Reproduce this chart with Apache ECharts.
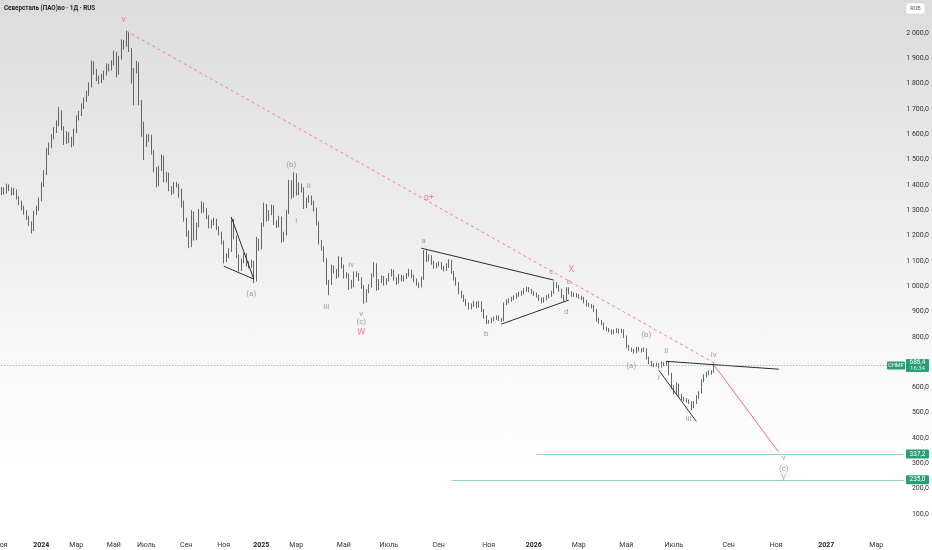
<!DOCTYPE html>
<html>
<head>
<meta charset="utf-8">
<script src="https://cdn.jsdelivr.net/npm/echarts@6/dist/echarts.min.js"></script>
<style>
  html, body { margin: 0; padding: 0; }
  #chart {
    width: 932px;
    height: 550px;
    background: linear-gradient(to bottom, #dcdcdc 0%, #ebebeb 35%, #f8f8f8 65%, #ffffff 85%);
  }
</style>
</head>
<body>
<div id="chart"></div>
<script>
// дневные свечи CHMF, цены закрытия / минимумы / максимумы
const closes = [
  1380, 1372, 1395, 1385, 1368, 1378, 1350, 1330, 1312, 1295,
  1270, 1250, 1222, 1290, 1305, 1340, 1400, 1445, 1530, 1555,
  1590, 1615, 1640, 1690, 1625, 1570, 1600, 1580, 1560, 1610,
  1665, 1680, 1710, 1735, 1760, 1790, 1880, 1850, 1826, 1810,
  1825, 1840, 1870, 1860, 1880, 1920, 1840, 1900, 1965, 1950,
  2000, 1935, 1815, 1850, 1880, 1730, 1640, 1560, 1585, 1590,
  1530, 1460, 1400, 1465, 1510, 1420, 1440, 1385, 1370, 1405,
  1400, 1380, 1330, 1265, 1210, 1160, 1290, 1190, 1240, 1295,
  1325, 1300, 1275, 1235, 1250, 1260, 1230, 1210, 1175, 1100,
  1120, 1140, 1260, 1195, 1120, 1065, 1100, 1125, 1090, 1080,
  1095, 1020, 1180, 1150, 1240, 1320, 1265, 1290, 1315, 1250,
  1240, 1270, 1180, 1205, 1290, 1410, 1355, 1440, 1365, 1400,
  1385, 1315, 1340, 1350, 1330, 1305, 1250, 1175, 1150, 1105,
  1015, 1010, 1075, 1060, 1040, 1110, 1080, 1040, 1045, 1020,
  1000, 1050, 1045, 1030, 1000, 940, 980, 1000, 1040, 1085,
  990, 1020, 1035, 1010, 1025, 1045, 1060, 1030, 1015, 1040,
  1025, 1035, 1045, 1060, 1040, 1025, 1010, 1000, 1030, 1135,
  1105, 1118, 1095, 1078, 1085, 1090, 1075, 1065, 1080, 1100,
  1055, 1030, 1012, 975, 960, 945, 930, 915, 925, 935,
  920, 935, 905, 880, 858, 860, 868, 872, 878, 870,
  866, 930, 940, 945, 950, 958, 965, 970, 975, 985,
  990, 985, 975, 970, 962, 950, 940, 950, 958, 965,
  975, 1012, 1000, 985, 960, 948, 990, 975, 965, 968,
  962, 958, 952, 940, 928, 925, 922, 905, 868, 860,
  852, 835, 830, 825, 815, 822, 828, 820, 826, 800,
  762, 752, 748, 740, 755, 750, 745, 752, 718, 700,
  690, 688, 692, 682, 696, 690, 700, 655, 602, 580,
  612, 570, 558, 552, 548, 542, 522, 540, 562, 578,
  625, 645, 655, 660, 662, 686
];
const lows = [
  1360, 1362, 1366, 1376, 1358, 1360, 1342, 1320, 1300, 1282,
  1262, 1238, 1208, 1218, 1280, 1298, 1335, 1392, 1440, 1518,
  1545, 1580, 1605, 1632, 1615, 1558, 1562, 1565, 1548, 1555,
  1605, 1655, 1672, 1700, 1728, 1752, 1785, 1835, 1810, 1798,
  1802, 1815, 1832, 1848, 1852, 1872, 1825, 1835, 1895, 1935,
  1945, 1925, 1800, 1715, 1840, 1715, 1590, 1498, 1550, 1570,
  1520, 1450, 1390, 1395, 1455, 1410, 1410, 1375, 1360, 1365,
  1390, 1350, 1310, 1255, 1195, 1150, 1155, 1180, 1182, 1232,
  1288, 1290, 1265, 1228, 1228, 1240, 1222, 1200, 1165, 1090,
  1095, 1110, 1135, 1185, 1110, 1058, 1060, 1090, 1078, 1070,
  1072, 1012, 1018, 1140, 1145, 1235, 1255, 1258, 1280, 1242,
  1230, 1232, 1172, 1175, 1200, 1285, 1345, 1350, 1358, 1360,
  1370, 1305, 1308, 1330, 1320, 1295, 1240, 1165, 1140, 1095,
  1005, 965, 1005, 1050, 1030, 1035, 1070, 1030, 1030, 985,
  990, 995, 1035, 1020, 990, 930, 935, 972, 995, 1035,
  982, 985, 1012, 1002, 1005, 1018, 1038, 1022, 1005, 1010,
  1018, 1018, 1028, 1038, 1032, 1015, 1002, 992, 995, 1025,
  1095, 1098, 1085, 1068, 1070, 1078, 1065, 1058, 1060, 1072,
  1048, 1022, 1002, 968, 952, 938, 922, 908, 908, 918,
  912, 915, 898, 872, 850, 852, 854, 862, 866, 862,
  858, 862, 925, 932, 938, 944, 950, 958, 962, 968,
  978, 976, 968, 962, 955, 942, 932, 935, 944, 952,
  958, 970, 992, 978, 952, 940, 945, 968, 958, 958,
  955, 950, 945, 932, 920, 918, 912, 898, 860, 852,
  845, 828, 822, 818, 808, 810, 815, 812, 815, 795,
  755, 745, 740, 733, 735, 742, 738, 740, 710, 692,
  683, 680, 682, 675, 678, 684, 686, 648, 595, 572,
  575, 562, 550, 545, 540, 535, 510, 518, 535, 555,
  575, 620, 640, 648, 650, 658
];
const highs = [
  1392, 1390, 1405, 1402, 1390, 1388, 1382, 1356, 1338, 1318,
  1300, 1278, 1256, 1298, 1318, 1350, 1410, 1458, 1545, 1568,
  1600, 1628, 1655, 1708, 1695, 1632, 1612, 1608, 1590, 1622,
  1675, 1692, 1722, 1745, 1772, 1805, 1892, 1888, 1858, 1832,
  1838, 1852, 1880, 1878, 1892, 1930, 1925, 1910, 1975, 1972,
  2010, 2005, 1940, 1862, 1890, 1885, 1735, 1650, 1600, 1600,
  1598, 1538, 1470, 1475, 1520, 1515, 1452, 1448, 1395, 1412,
  1412, 1405, 1385, 1338, 1270, 1220, 1300, 1295, 1250, 1305,
  1335, 1330, 1308, 1280, 1262, 1270, 1266, 1236, 1215, 1180,
  1130, 1150, 1270, 1265, 1200, 1125, 1110, 1132, 1130, 1098,
  1105, 1100, 1195, 1188, 1250, 1330, 1325, 1300, 1322, 1320,
  1260, 1278, 1275, 1215, 1300, 1420, 1418, 1450, 1445, 1410,
  1405, 1390, 1350, 1360, 1358, 1338, 1310, 1255, 1182, 1158,
  1110, 1025, 1085, 1082, 1068, 1118, 1115, 1085, 1055, 1050,
  1025, 1058, 1058, 1052, 1035, 1005, 988, 1008, 1050, 1095,
  1090, 1028, 1042, 1040, 1032, 1052, 1068, 1065, 1035, 1048,
  1045, 1042, 1052, 1068, 1065, 1045, 1030, 1015, 1038, 1142,
  1140, 1125, 1122, 1100, 1092, 1098, 1095, 1080, 1090, 1106,
  1104, 1060, 1035, 1016, 982, 966, 950, 936, 932, 942,
  940, 942, 940, 910, 885, 866, 875, 880, 885, 884,
  875, 936, 948, 952, 958, 964, 972, 978, 982, 992,
  998, 996, 990, 980, 975, 966, 955, 956, 964, 970,
  982, 1018, 1015, 1005, 990, 965, 996, 995, 980, 975,
  972, 968, 962, 958, 945, 934, 930, 926, 910, 875,
  866, 856, 840, 835, 830, 828, 834, 832, 832, 830,
  805, 768, 758, 752, 760, 760, 755, 758, 755, 722,
  705, 696, 698, 696, 702, 700, 705, 703, 658, 608,
  620, 615, 575, 562, 558, 552, 545, 546, 568, 585,
  632, 652, 662, 668, 668, 695
];
const firstOpen = 1370;
const lastPrice = 686.4;

// подписи шкалы времени: название и номер бара
const monthNames = ['Ноя', '2024', 'Мар', 'Май', 'Июль', 'Сен', 'Ноя', '2025', 'Мар', 'Май', 'Июль',
  'Сен', 'Ноя', '2026', 'Мар', 'Май', 'Июль', 'Сен', 'Ноя', '2027', 'Мар'];
const monthBars = [0, 16, 30, 45, 58, 74, 89, 104, 118, 137, 155, 175, 195, 213, 231, 250, 269, 291, 310, 330, 350];

// разметка волн: [бар, цена, текст]
const waveGray = [
  [116, 1478, '(b)'], [123, 1395, 'ii'], [118, 1257, 'i'], [100, 968, '(a)'],
  [130, 917, 'iii'], [140, 1083, 'iv'], [144, 889, 'v'], [144, 858, '(c)'],
  [169, 1178, 'a'], [194, 810, 'b'], [220, 1055, 'c'], [227, 1016, 'e'], [226, 897, 'd'],
  [258, 806, '(b)'], [266, 743, 'ii'], [252, 684, '(a)'], [263, 636, 'i'],
  [285, 727, 'iv'], [275, 474, 'iii'], [313, 320, 'v'], [313, 276, '(c)']
];
const waveRed = [
  [49, 2051, 'v'], [144, 814, 'W'], [228, 1063, 'X'], [313, 241, 'Y'], [171, 1348, 'α+']
];

// построения: отрезки [[бар, цена], [бар, цена]]
const blackLines = [
  [[92, 1273], [101, 1028]],
  [[89, 1079], [101, 1028]],
  [[168, 1150], [221, 1024]],
  [[200, 850], [227, 945]],
  [[266, 703], [311, 672]],
  [[263, 668], [278, 466]]
];
const redDashed = [[[50, 2008], [286, 692]]];
const redArrow = [[[285, 690], [311, 344]]];
const targets = [[337.2, 214], [235.0, 180]];

const slotCount = 362;

const candles = closes.map((c, i) => [i === 0 ? firstOpen : closes[i - 1], c, lows[i], highs[i]]);
const slots = Array.from({ length: slotCount }, (_, i) => String(i));
const tickMap = {};
monthBars.forEach((b, k) => { tickMap[b] = monthNames[k]; });

const fmtPrice = v => {
  const parts = v.toFixed(1).split('.');
  return parts[0].replace(/\B(?=(\d{3})+$)/g, ' ') + ',' + parts[1];
};

const seg = (s, style) => [
  { coord: s[0], lineStyle: style },
  { coord: s[1], lineStyle: style }
];

const blackStyle = { color: '#2b2b2b', width: 1, type: 'solid' };
const dashStyle = { color: '#f2838f', width: 1, type: [3, 3] };
const arrowStyle = { color: '#f06a79', width: 1, type: 'solid' };
const tealStyle = { color: '#8fd3c8', width: 1, type: 'solid' };
const dotStyle = { color: '#9a9a9a', width: 1, type: [1, 2] };

const markLines = [];
blackLines.forEach(s => markLines.push(seg(s, blackStyle)));
redDashed.forEach(s => markLines.push(seg(s, dashStyle)));
targets.forEach(t => markLines.push(seg([[t[1], t[0]], [slotCount - 1, t[0]]], tealStyle)));
markLines.push(seg([[0, lastPrice], [slotCount - 1, lastPrice]], dotStyle));

const chart = echarts.init(document.getElementById('chart'));

const labelSeries = (data, color, size) => ({
  type: 'scatter',
  data: data,
  symbolSize: 0,
  silent: true,
  z: 5,
  label: {
    show: true,
    position: 'inside',
    formatter: p => p.data[2],
    color: color,
    fontSize: size,
    fontFamily: 'Roboto, sans-serif'
  }
});

chart.setOption({
  animation: false,
  backgroundColor: 'transparent',
  grid: { left: 0, right: 27, top: 7.7, bottom: 10.7, outerBoundsMode: 'none', containLabel: false },
  xAxis: {
    type: 'category',
    data: slots,
    axisLine: { show: false },
    axisTick: { show: false },
    splitLine: { show: false },
    axisLabel: {
      interval: i => tickMap[i] !== undefined,
      formatter: (v, i) => {
        const t = tickMap[i];
        return /^\d{4}$/.test(t) ? '{y|' + t + '}' : t;
      },
      color: '#333',
      fontSize: 7,
      margin: 2,
      fontFamily: 'Roboto, sans-serif',
      rich: { y: { fontWeight: 'bold', fontSize: 7, color: '#222', fontFamily: 'Roboto, sans-serif' } }
    }
  },
  yAxis: {
    type: 'value',
    position: 'right',
    min: 0,
    max: 2100,
    interval: 100,
    axisLine: { show: false },
    axisTick: { show: false },
    splitLine: { show: false },
    axisLabel: {
      showMinLabel: false,
      showMaxLabel: false,
      align: 'right',
      margin: 24,
      color: '#333',
      fontSize: 7,
      fontFamily: 'Roboto, sans-serif',
      formatter: v => fmtPrice(v)
    }
  },
  series: [
    {
      type: 'candlestick',
      data: candles,
      barWidth: 1.3,
      itemStyle: {
        color: '#424242',
        color0: '#424242',
        borderColor: '#424242',
        borderColor0: '#424242',
        borderWidth: 0.8
      },
      markLine: {
        silent: true,
        symbol: 'none',
        label: { show: false },
        data: markLines
      }
    },
    {
      type: 'line',
      data: [],
      markLine: {
        silent: true,
        symbol: ['none', 'arrow'],
        symbolSize: [0, 6],
        label: { show: false },
        lineStyle: arrowStyle,
        data: redArrow.map(s => [{ coord: s[0] }, { coord: s[1] }])
      }
    },
    labelSeries(waveGray, '#8a8a8a', 8),
    labelSeries(waveRed, '#f07080', 9)
  ]
});

// ценовые метки на шкале и заголовок
const green = '#2a9d76';
const tags = [];
const yAt = p => chart.convertToPixel({ yAxisIndex: 0 }, p);
const yLast = yAt(lastPrice);
tags.push({ type: 'rect', shape: { x: 906, y: yLast - 6.5, width: 23, height: 13, r: 1 }, style: { fill: green } });
tags.push({ type: 'text', x: 917.5, y: yLast - 3, style: { text: fmtPrice(lastPrice), fill: '#fff', fontSize: 6.5, align: 'center', verticalAlign: 'middle', fontFamily: 'Roboto, sans-serif' } });
tags.push({ type: 'text', x: 917.5, y: yLast + 3.2, style: { text: '16:34', fill: '#d6f0e6', fontSize: 6, align: 'center', verticalAlign: 'middle', fontFamily: 'Roboto, sans-serif' } });
tags.push({ type: 'rect', shape: { x: 887, y: yLast - 4, width: 18, height: 8, r: 1 }, style: { fill: green } });
tags.push({ type: 'text', x: 896, y: yLast, style: { text: 'CHMF', fill: '#fff', fontSize: 5.5, align: 'center', verticalAlign: 'middle', fontFamily: 'Roboto, sans-serif' } });
targets.forEach(t => {
  const y = yAt(t[0]);
  tags.push({ type: 'rect', shape: { x: 906, y: y - 4.5, width: 23, height: 9, r: 1 }, style: { fill: green } });
  tags.push({ type: 'text', x: 917.5, y: y, style: { text: fmtPrice(t[0]), fill: '#fff', fontSize: 6.5, align: 'center', verticalAlign: 'middle', fontFamily: 'Roboto, sans-serif' } });
});
tags.push({ type: 'rect', shape: { x: 906, y: 3, width: 19, height: 11, r: 2 }, style: { fill: '#fff', stroke: '#d0d0d0', lineWidth: 0.5 } });
tags.push({ type: 'text', x: 915.5, y: 8.5, style: { text: 'RUB', fill: '#555', fontSize: 5.5, align: 'center', verticalAlign: 'middle', fontFamily: 'Roboto, sans-serif' } });
tags.push({ type: 'text', x: 4, y: 8, style: { text: 'Северсталь (ПАО)ао · 1Д · RUS', fill: '#222', fontSize: 6.3, fontWeight: 'bold', verticalAlign: 'middle', fontFamily: 'Roboto, sans-serif' } });

chart.setOption({ graphic: tags.map(g => Object.assign({ silent: true, z: 100 }, g)) });
</script>
</body>
</html>
